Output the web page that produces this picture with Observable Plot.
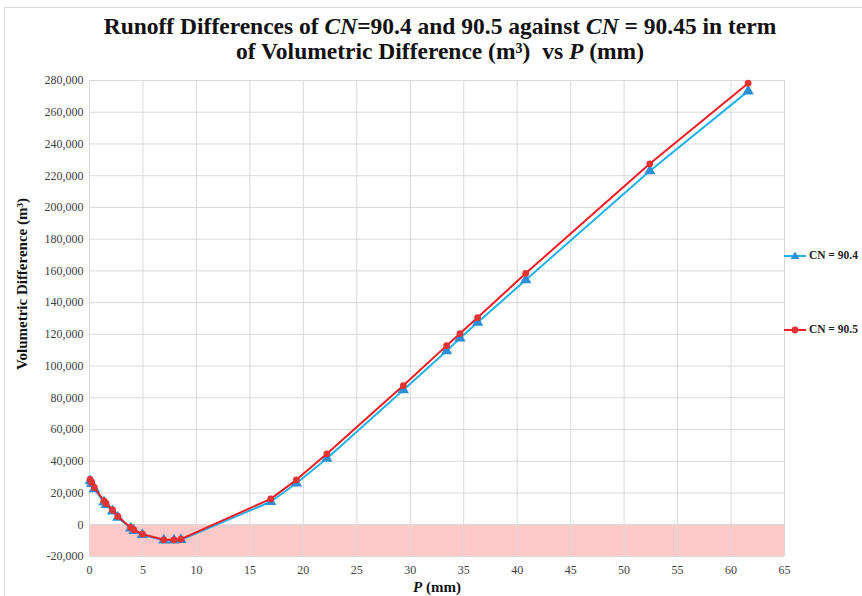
<!DOCTYPE html>
<html>
<head>
<meta charset="utf-8">
<script src="https://cdn.jsdelivr.net/npm/d3@7"></script>
<script src="https://cdn.jsdelivr.net/npm/@observablehq/plot@0.6"></script>
<style>
  html, body { margin: 0; padding: 0; background: #fff; }
  #wrap { position: relative; width: 862px; height: 596px; overflow: hidden; font-family: "Liberation Serif", "DejaVu Serif", serif; }
  #frame { position: absolute; left: 4px; top: 7px; width: 900px; height: 700px; border: 1px solid #d9d9d9; box-sizing: border-box; }
  #title { position: absolute; left: 0; top: 14px; width: 880px; text-align: center; font-weight: bold; font-size: 23.5px; line-height: 25px; color: #111; }
  #chart { position: absolute; left: 0; top: 0; }
  .leg { position: absolute; left: 784px; font-weight: bold; font-size: 11.5px; color: #222; white-space: nowrap; }
  .leg svg { vertical-align: middle; }
</style>
</head>
<body>
<div id="wrap">
  <div id="frame"></div>
  <div id="chart"></div>
  <div id="title">Runoff Differences of <i>CN</i>=90.4 and 90.5 against <i>CN</i> = 90.45 in term<br>of Volumetric Difference (m³)&nbsp; vs <i>P</i> (mm)</div>
  <div id="legend"></div>
</div>
<script>
// ---- data ----
const P = [0.05, 0.2, 0.45, 1.35, 1.55, 2.15, 2.65, 3.85, 4.15, 4.95, 6.95, 7.9, 8.55, 16.95, 19.35, 22.2, 29.35, 33.4, 34.65, 36.3, 40.8, 52.4, 61.6];
const cn905 = [28600, 26800, 23500, 15100, 13400, 9300, 5200, -1700, -3200, -5900, -9500, -9500, -9100, 16300, 28300, 44700, 87700, 112900, 120500, 130600, 158500, 227500, 278300];
const cn904 = [27600, 25800, 22600, 14300, 12600, 8600, 4600, -2200, -3700, -6300, -9800, -9800, -9500, 14500, 26200, 41800, 85000, 109500, 117600, 127500, 154300, 223000, 273300];
const seriesNames = ["CN = 90.4", "CN = 90.5"];
const xTicks = [0, 5, 10, 15, 20, 25, 30, 35, 40, 45, 50, 55, 60, 65];
const yTicks = [-20000, 0, 20000, 40000, 60000, 80000, 100000, 120000, 140000, 160000, 180000, 200000, 220000, 240000, 260000, 280000];
const negativeBand = [{x1: 0, x2: 65, y1: -20000, y2: 0}];

const blueLine = "#22b2ea", blueMark = "#2a8fd6";
const redLine = "#ee1c24", redMark = "#e33333";

const d904 = P.map((p, i) => ({P: p, v: cn904[i]}));
const d905 = P.map((p, i) => ({P: p, v: cn905[i]}));

const fmt = d => d3.format(",")(d).replace("\u2212", "-");

const plot = Plot.plot({
  width: 862,
  height: 596,
  marginLeft: 89,
  marginRight: 78,
  marginTop: 80,
  marginBottom: 40,
  style: {fontFamily: "Liberation Serif, serif", fontSize: "12px", color: "#404040", background: "transparent"},
  x: {domain: [0, 65], ticks: xTicks},
  y: {domain: [-20000, 280000], ticks: yTicks},
  marks: [
    Plot.rect(negativeBand, {x1: "x1", x2: "x2", y1: "y1", y2: "y2", fill: "#ffc9c9"}),
    Plot.gridX(xTicks, {stroke: "#d9d9d9", strokeOpacity: 1, strokeWidth: 1}),
    Plot.gridY(yTicks, {stroke: "#d9d9d9", strokeOpacity: 1, strokeWidth: 1}),
    Plot.axisX(xTicks, {tickSize: 0, tickPadding: 9, label: null, fill: "#404040"}),
    Plot.axisY(yTicks, {tickSize: 0, tickPadding: 6, tickFormat: fmt, label: null, fill: "#404040"}),
    Plot.line(d904, {x: "P", y: "v", stroke: blueLine, strokeWidth: 2}),
    Plot.dot(d904, {x: "P", y: "v", symbol: "triangle", r: 4.2, fill: blueMark, stroke: "none"}),
    Plot.line(d905, {x: "P", y: "v", stroke: redLine, strokeWidth: 2}),
    Plot.dot(d905, {x: "P", y: "v", symbol: "circle", r: 3.4, fill: redMark, stroke: "none"})
  ]
});
document.getElementById("chart").appendChild(plot);

// axis titles
const svg = d3.select(plot);
svg.append("text")
  .attr("transform", "translate(27,284) rotate(-90)")
  .attr("text-anchor", "middle")
  .attr("font-weight", "bold").attr("font-size", 15).attr("fill", "#111")
  .text("Volumetric Difference (m³)");
const xl = svg.append("text")
  .attr("x", 437).attr("y", 592)
  .attr("text-anchor", "middle")
  .attr("font-weight", "bold").attr("font-size", 15).attr("fill", "#111");
xl.append("tspan").attr("font-style", "italic").text("P");
xl.append("tspan").text(" (mm)");

// legend
const legend = document.getElementById("legend");
const legItems = [
  {name: seriesNames[0], line: blueLine, mark: blueMark, sym: "tri", top: 249},
  {name: seriesNames[1], line: redLine, mark: redMark, sym: "dot", top: 323}
];
legItems.forEach(it => {
  const d = document.createElement("div");
  d.className = "leg";
  d.style.top = it.top + "px";
  const m = it.sym === "tri"
    ? `<path d="M11,1.5 L15.5,9 L6.5,9 Z" fill="${it.mark}"/>`
    : `<circle cx="11" cy="6" r="3.4" fill="${it.mark}"/>`;
  d.innerHTML = `<svg width="22" height="12"><line x1="0" x2="22" y1="6" y2="6" stroke="${it.line}" stroke-width="2"/>${m}</svg> ${it.name}`;
  legend.appendChild(d);
});
</script>
</body>
</html>
